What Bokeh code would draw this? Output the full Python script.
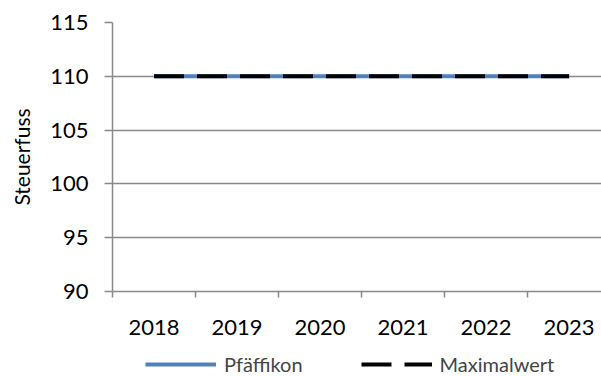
from bokeh.plotting import figure
from bokeh.layouts import column
from bokeh.models import Range1d, FixedTicker, Legend, LegendItem
from bokeh.embed import file_html
from bokeh.resources import INLINE

# Data
years = ["2018", "2019", "2020", "2021", "2022", "2023"]
pfaeffikon = [110, 110, 110, 110, 110, 110]
maximalwert = [110, 110, 110, 110, 110, 110]

FONT = "Lato"
GRID = "#898989"
BLUE = "#4F81BD"
DASH = "30 13"

centers = [i + 0.5 for i in range(len(years))]
bounds = [float(i) for i in range(len(years) + 1)]

p = figure(width=601, height=346, output_backend="svg", toolbar_location=None,
           x_range=Range1d(0, 5.89), y_range=Range1d(90, 115),
           min_border_left=112, min_border_right=0, min_border_top=22,
           min_border_bottom=55)
p.outline_line_color = None

p.line(centers, pfaeffikon, line_color=BLUE, line_width=4)
p.line(centers, maximalwert, line_color="black", line_width=4, line_dash=DASH)

# x axis: labels at category centres, tick marks at category boundaries
xa = p.xaxis[0]
xa.ticker = FixedTicker(ticks=centers, minor_ticks=bounds)
xa.major_label_overrides = {c: y for c, y in zip(centers, years)}
xa.major_tick_line_color = None
xa.minor_tick_out = 6
xa.minor_tick_in = 0
xa.minor_tick_line_color = GRID
xa.minor_tick_line_width = 1.5
xa.axis_line_color = GRID
xa.axis_line_width = 1.5
xa.major_label_text_font = FONT
xa.major_label_text_font_size = "22px"
xa.major_label_text_color = "black"
xa.major_label_standoff = 22

ya = p.yaxis[0]
ya.ticker = FixedTicker(ticks=[90, 95, 100, 105, 110, 115])
ya.major_tick_out = 8
ya.major_tick_in = 0
ya.minor_tick_line_color = None
ya.major_tick_line_color = GRID
ya.major_tick_line_width = 1.5
ya.axis_line_color = GRID
ya.axis_line_width = 1.5
ya.major_label_text_font = FONT
ya.major_label_text_font_size = "22px"
ya.major_label_text_color = "black"
ya.major_label_standoff = 16
ya.axis_label = "Steuerfuss"
ya.axis_label_text_font = FONT
ya.axis_label_text_font_style = "normal"
ya.axis_label_text_font_size = "21px"
ya.axis_label_text_color = "black"
ya.axis_label_standoff = 13

p.xgrid.grid_line_color = None
p.ygrid.ticker = FixedTicker(ticks=[95, 100, 105, 110, 115])
p.ygrid.grid_line_color = GRID
p.ygrid.grid_line_width = 1.5

# Legend strip underneath the chart; its series sit outside its own ranges,
# so only the legend entries show
leg = figure(width=601, height=30, output_backend="svg", toolbar_location=None,
             x_range=Range1d(0, 5.89), y_range=Range1d(0, 1),
             x_axis_type=None, y_axis_type=None,
             min_border_left=0, min_border_right=0, min_border_top=0,
             min_border_bottom=0)
leg.outline_line_color = None
leg.xgrid.visible = False
leg.ygrid.visible = False
l1 = leg.line(centers, pfaeffikon, line_color=BLUE, line_width=4)
l2 = leg.line(centers, maximalwert, line_color="black", line_width=4,
              line_dash=DASH)

legend = Legend(items=[LegendItem(label="Pfäffikon", renderers=[l1]),
                       LegendItem(label="Maximalwert", renderers=[l2])],
                orientation="horizontal", location=(33, 0),
                glyph_width=71, glyph_height=20, label_standoff=8,
                spacing=58, padding=0, margin=0,
                label_text_font=FONT, label_text_font_size="20px",
                border_line_color=None, background_fill_alpha=0)
leg.add_layout(legend, "center")

open("out.html", "w").write(file_html(column(p, leg, spacing=0), INLINE))
